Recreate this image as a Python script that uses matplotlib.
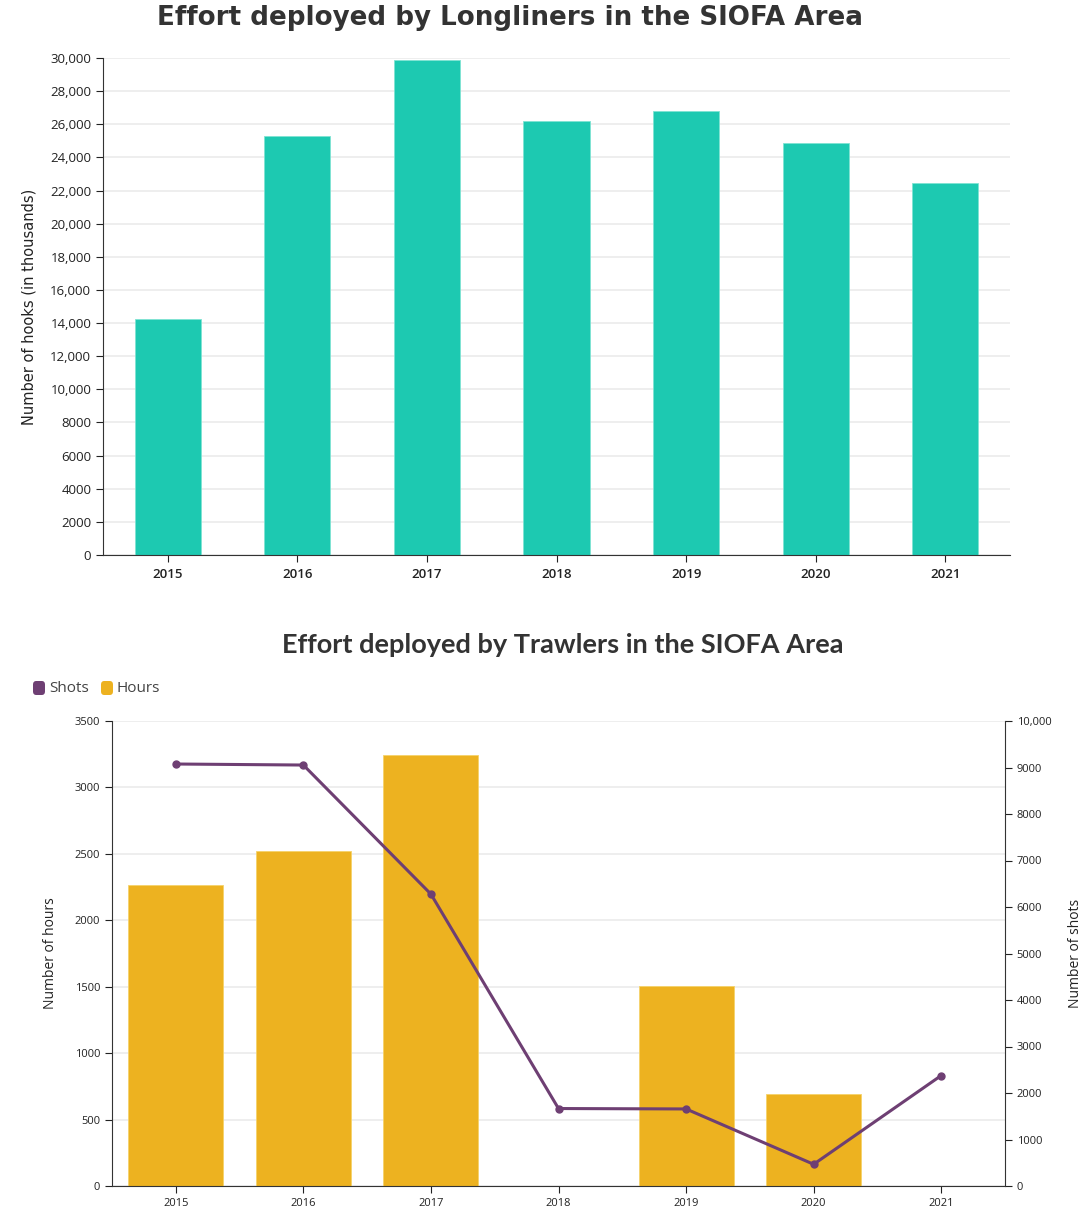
import matplotlib; matplotlib.use('agg')
import matplotlib.pyplot as plt
import matplotlib.ticker as mticker
from matplotlib.patches import FancyBboxPatch
import numpy as np

# Longliner effort (hooks, thousands)
years = ['2015', '2016', '2017', '2018', '2019', '2020', '2021']
hooks = [14270, 25300, 29900, 26200, 26820, 24840, 22440]

# Trawler effort
hours = [2262, 2522, 3246, 0, 1508, 690, 0]
shots = [9075, 9053, 6277, 1666, 1657, 467, 2376]

TEAL = '#1dc9b1'
GOLD = '#edb220'
PURPLE = '#6e3f73'
GRID = '#ebebeb'
TXT = '#222222'

plt.rcParams['font.family'] = ['Open Sans', 'DejaVu Sans']


def fmt_d3(v, pos=None):
    v = int(round(v))
    return '{:,}'.format(v) if v >= 10000 else str(v)


W, H = 1089, 1209
fig = plt.figure(figsize=(W / 100, H / 100), dpi=100)


def box(l, t, r, b):
    return [l / W, 1 - b / H, (r - l) / W, (b - t) / H]


# ---- top chart: longliners
ax1 = fig.add_axes(box(103, 58, 1010, 555))
x = np.arange(len(years))
ax1.bar(x, hooks, width=0.51, color=TEAL, edgecolor='#7fe3d3', linewidth=0.6, zorder=2)
ax1.set_xlim(-0.5, len(years) - 0.5)
ax1.set_ylim(0, 30000)
ax1.set_yticks(np.arange(0, 30001, 2000))
ax1.yaxis.set_major_formatter(mticker.FuncFormatter(fmt_d3))
ax1.set_xticks(x)
ax1.set_xticklabels(years, fontweight='semibold')
ax1.grid(axis='y', color=GRID, linewidth=1.2, zorder=0)
for s in ['top', 'right']:
    ax1.spines[s].set_visible(False)
for s in ['left', 'bottom']:
    ax1.spines[s].set_color('#333333')
ax1.tick_params(axis='both', labelsize=9.5, colors=TXT, length=5, width=0.8)
ax1.tick_params(axis='x', pad=4)
ax1.set_ylabel('Number of hooks (in thousands)', fontsize=10.5,
               family=['Liberation Sans Narrow', 'DejaVu Sans'], color=TXT, labelpad=10)
fig.text(510 / W, 1 - 18 / H, 'Effort deployed by Longliners in the SIOFA Area',
         ha='center', va='center', fontsize=18.8, fontweight='bold',
         family='DejaVu Sans', color='#333333')

# ---- bottom chart: trawlers
ax2 = fig.add_axes(box(112, 721, 1005, 1186))
ax2.bar(x, hours, width=0.745, color=GOLD, edgecolor='#f6d36a', linewidth=0.6, zorder=2)
ax2.set_xlim(-0.5, len(years) - 0.5)
ax2.set_ylim(0, 3500)
ax2.set_yticks(np.arange(0, 3501, 500))
ax2.set_xticks(x)
ax2.set_xticklabels(years)
ax2.grid(axis='y', color=GRID, linewidth=1.2, zorder=0)
for s in ['top', 'right']:
    ax2.spines[s].set_visible(False)
for s in ['left', 'bottom']:
    ax2.spines[s].set_color('#333333')
ax2.tick_params(axis='both', labelsize=8, colors=TXT, length=5, width=0.8)
ax2.set_ylabel('Number of hours', fontsize=10, color=TXT, labelpad=12)

ax3 = ax2.twinx()
ax3.plot(x, shots, color=PURPLE, linewidth=2.2, marker='o', markersize=5, zorder=3)
ax3.set_ylim(0, 10000)
ax3.set_yticks(np.arange(0, 10001, 1000))
ax3.yaxis.set_major_formatter(mticker.FuncFormatter(fmt_d3))
for s in ['top', 'left', 'bottom']:
    ax3.spines[s].set_visible(False)
ax3.spines['right'].set_color('#333333')
ax3.tick_params(axis='y', labelsize=8, colors=TXT, length=5, width=0.8)
ax3.set_ylabel('Number of shots', fontsize=10, color=TXT, labelpad=12)

fig.text(563 / W, 1 - 645 / H, 'Effort deployed by Trawlers in the SIOFA Area',
         ha='center', va='center', fontsize=19.5, fontweight='bold',
         family=['Lato', 'DejaVu Sans'], color='#333333')

# legend swatches
for lx, label, col in [(33, 'Shots', PURPLE), (101, 'Hours', GOLD)]:
    sw = FancyBboxPatch((lx / W, 1 - 695 / H), 12 / W, 14 / H,
                        boxstyle='round,pad=0,rounding_size=0.003',
                        transform=fig.transFigure, color=col, lw=0)
    fig.add_artist(sw)
    fig.text((lx + 16) / W, 1 - 688 / H, label, fontsize=11, color='#444444',
             ha='left', va='center')

fig.savefig('out.png', dpi=100)
